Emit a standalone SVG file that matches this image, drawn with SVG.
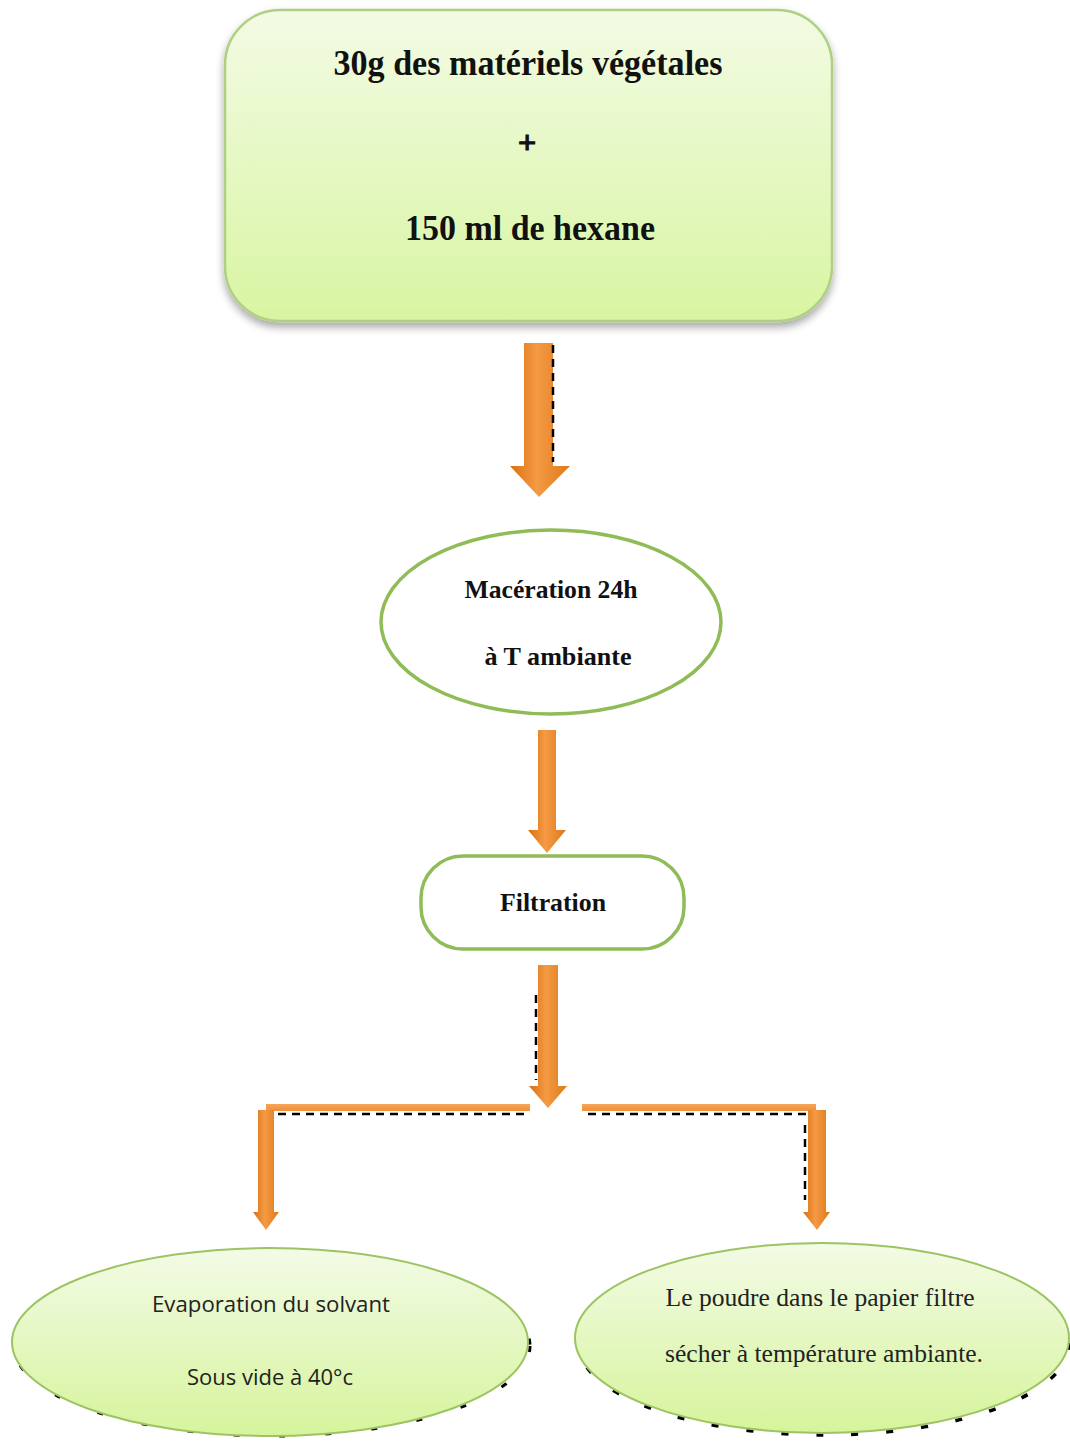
<svg xmlns="http://www.w3.org/2000/svg" width="1070" height="1441" viewBox="0 0 1070 1441">
<defs>
<linearGradient id="gTop" x1="0" y1="0" x2="0" y2="1">
<stop offset="0" stop-color="#f3fbe4"/>
<stop offset="1" stop-color="#d8f5a2"/>
</linearGradient>
<linearGradient id="gEll" x1="0" y1="0" x2="0" y2="1">
<stop offset="0" stop-color="#f3fbe6"/>
<stop offset="1" stop-color="#d6f49c"/>
</linearGradient>
<linearGradient id="gOr" x1="0" y1="0" x2="1" y2="0">
<stop offset="0" stop-color="#d8700f"/>
<stop offset="0.45" stop-color="#f59a45"/>
<stop offset="1" stop-color="#dc7a18"/>
</linearGradient>
<linearGradient id="gOrH" x1="0" y1="0" x2="0" y2="1">
<stop offset="0" stop-color="#f8a558"/>
<stop offset="1" stop-color="#ee8f3a"/>
</linearGradient>
<filter id="sh" x="-10%" y="-10%" width="120%" height="130%">
<feGaussianBlur in="SourceAlpha" stdDeviation="4"/>
<feOffset dy="5"/>
<feComponentTransfer><feFuncA type="linear" slope="0.35"/></feComponentTransfer>
<feMerge><feMergeNode/><feMergeNode in="SourceGraphic"/></feMerge>
</filter>
</defs>
<style>
.serifb{font-family:"Liberation Serif","Times New Roman",serif;font-weight:bold;fill:#111}
.serif{font-family:"Liberation Serif","Times New Roman",serif;fill:#222}
.sans{font-family:"Open Sans","Liberation Sans",sans-serif;fill:#222}
.node{stroke:#8fbc56;stroke-width:3.5}
.arrow{fill:url(#gOr)}
.dash{stroke:#000;stroke-width:2.5;fill:none;stroke-dasharray:8 6}
</style>

<g id="connectors">
<path class="arrow" d="M524,343 H553 V466 H570 L539,497 L510,466 H524 Z"/>
<line class="dash" x1="553" y1="345" x2="553" y2="462" stroke-dasharray="4 3" stroke-width="2"/>
<path class="arrow" d="M538,730 H556 V830 H566 L547,853 L528,830 H538 Z"/>
<path class="arrow" d="M538,965 H558 V1086 H567 L548,1108 L529,1086 H538 Z"/>
<line class="dash" x1="536" y1="995" x2="536" y2="1080" stroke-dasharray="10 30"/>
<rect x="266" y="1104" width="264" height="7" fill="url(#gOrH)"/>
<rect x="582" y="1104" width="234" height="7" fill="url(#gOrH)"/>
<line class="dash" x1="278" y1="1114" x2="530" y2="1114" stroke-width="3"/>
<line class="dash" x1="588" y1="1114" x2="808" y2="1114" stroke-width="3"/>
<path class="arrow" d="M258,1110 H274 V1212 H279 L266,1230 L253,1212 H258 Z"/>
<path class="arrow" d="M808,1110 H826 V1212 H830 L817,1230 L803,1212 H808 Z"/>
<line class="dash" x1="805" y1="1125" x2="805" y2="1200" stroke-dasharray="8 20"/>
</g>

<g id="node-top">
<rect x="225" y="10" width="607" height="311" rx="55" fill="url(#gTop)" stroke="#afd082" stroke-width="2.5" filter="url(#sh)"/>
<text class="serifb" x="528" y="75" font-size="36" text-anchor="middle" textLength="389" lengthAdjust="spacingAndGlyphs">30g des matériels végétales</text>
<text class="serifb" x="527" y="153" font-size="32" text-anchor="middle" stroke="#111" stroke-width="1.2">+</text>
<text class="serifb" x="530" y="240" font-size="36" text-anchor="middle" textLength="250" lengthAdjust="spacingAndGlyphs">150 ml de hexane</text>
</g>

<g id="node-maceration">
<ellipse class="node" cx="551" cy="622" rx="170" ry="92" fill="#fff"/>
<text class="serifb" x="551" y="598" font-size="26" text-anchor="middle" textLength="173" lengthAdjust="spacingAndGlyphs">Macération 24h</text>
<text class="serifb" x="558" y="665" font-size="26" text-anchor="middle" textLength="147" lengthAdjust="spacingAndGlyphs">à T  ambiante</text>
</g>

<g id="node-filtration">
<rect class="node" x="421" y="856" width="263" height="93" rx="42" fill="#fff"/>
<text class="serifb" x="553" y="911" font-size="26" text-anchor="middle" textLength="106" lengthAdjust="spacingAndGlyphs">Filtration</text>
</g>

<g id="node-evaporation">
<ellipse cx="272" cy="1346" rx="258" ry="90" fill="none" stroke="#000" stroke-width="3" stroke-dasharray="6 40"/>
<ellipse cx="270" cy="1342" rx="258" ry="94" fill="url(#gEll)" stroke="#9cc462" stroke-width="2"/>
<text class="sans" x="271" y="1312" font-size="22" text-anchor="middle" textLength="238" lengthAdjust="spacingAndGlyphs">Evaporation du solvant</text>
<text class="sans" x="270" y="1385" font-size="22" text-anchor="middle" textLength="166" lengthAdjust="spacingAndGlyphs">Sous vide à 40°c</text>
</g>

<g id="node-poudre">
<ellipse cx="824" cy="1343" rx="246" ry="92" fill="none" stroke="#000" stroke-width="3.5" stroke-dasharray="7 28"/>
<ellipse cx="822" cy="1338" rx="247" ry="95" fill="url(#gEll)" stroke="#9cc462" stroke-width="2"/>
<text class="serif" x="820" y="1306" font-size="25" text-anchor="middle" textLength="309" lengthAdjust="spacingAndGlyphs">Le poudre dans le papier filtre</text>
<text class="serif" x="824" y="1362" font-size="25" text-anchor="middle" textLength="318" lengthAdjust="spacingAndGlyphs">sécher à température ambiante.</text>
</g>
</svg>
